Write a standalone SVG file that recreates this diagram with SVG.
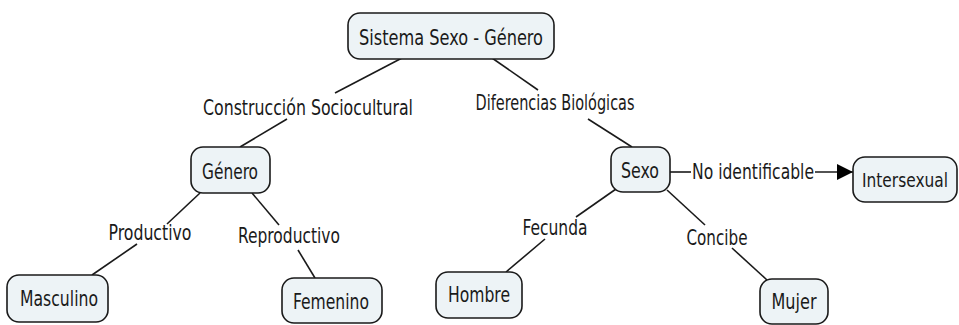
<svg xmlns="http://www.w3.org/2000/svg" width="959" height="325" viewBox="0 0 959 325">
<defs>
<style>
.n rect{fill:#edf3f6;stroke:#1a1a1a;stroke-width:1.6}
text{font-family:"DejaVu Sans Condensed","DejaVu Sans","Liberation Sans",sans-serif;font-size:21px;fill:#1a1a1a}
.c line{stroke:#1a1a1a;stroke-width:1.6}
</style>
<marker id="ah" viewBox="0 0 16 16" refX="16" refY="8" markerWidth="16" markerHeight="16" markerUnits="userSpaceOnUse" orient="auto">
<path d="M0,0 L16,8 L0,16 Z" fill="#000"/>
</marker>
</defs>
<rect width="959" height="325" fill="#fff"/>
<g id="connectors" class="c">
<line x1="402" y1="58" x2="335" y2="93"/>
<line x1="492" y1="58" x2="538" y2="90"/>
<line x1="287" y1="119" x2="240" y2="147"/>
<line x1="588" y1="119" x2="632" y2="147"/>
<line x1="200" y1="193" x2="167" y2="224"/>
<line x1="137" y1="244" x2="92" y2="275"/>
<line x1="252" y1="193" x2="279" y2="225"/>
<line x1="298" y1="250" x2="315" y2="278"/>
<line x1="616" y1="189" x2="576" y2="217"/>
<line x1="545" y1="239" x2="506" y2="272"/>
<line x1="667" y1="190" x2="705" y2="225"/>
<line x1="732" y1="248" x2="767" y2="280"/>
<line x1="670" y1="172" x2="691" y2="172"/>
<line x1="815" y1="172" x2="853" y2="172" marker-end="url(#ah)"/>
<text x="308" y="115" text-anchor="middle" textLength="210" lengthAdjust="spacingAndGlyphs">Construcción Sociocultural</text>
<text x="555" y="110" text-anchor="middle" textLength="159" lengthAdjust="spacingAndGlyphs">Diferencias Biológicas</text>
<text x="150" y="240" text-anchor="middle" textLength="83" lengthAdjust="spacingAndGlyphs">Productivo</text>
<text x="289" y="243" text-anchor="middle" textLength="102" lengthAdjust="spacingAndGlyphs">Reproductivo</text>
<text x="555" y="235" text-anchor="middle" textLength="65" lengthAdjust="spacingAndGlyphs">Fecunda</text>
<text x="717" y="245" text-anchor="middle" textLength="61" lengthAdjust="spacingAndGlyphs">Concibe</text>
<text x="753" y="179" text-anchor="middle" textLength="122" lengthAdjust="spacingAndGlyphs">No identificable</text>
</g>
<g id="sistema" class="n"><rect x="348" y="13" width="206" height="46" rx="12"/><text x="451" y="45" text-anchor="middle" textLength="184" lengthAdjust="spacingAndGlyphs">Sistema Sexo - Género</text></g>
<g id="genero" class="n"><rect x="191" y="147" width="79" height="46" rx="12"/><text x="230" y="179" text-anchor="middle" textLength="56" lengthAdjust="spacingAndGlyphs">Género</text></g>
<g id="sexo" class="n"><rect x="611" y="147" width="59" height="45" rx="12"/><text x="640" y="178" text-anchor="middle" textLength="38" lengthAdjust="spacingAndGlyphs">Sexo</text></g>
<g id="intersexual" class="n"><rect x="853" y="157" width="104" height="45" rx="12"/><text x="905" y="187" text-anchor="middle" style="font-size:19px" textLength="86" lengthAdjust="spacingAndGlyphs">Intersexual</text></g>
<g id="masculino" class="n"><rect x="7" y="275" width="101" height="47" rx="12"/><text x="59" y="306" text-anchor="middle" textLength="78" lengthAdjust="spacingAndGlyphs">Masculino</text></g>
<g id="femenino" class="n"><rect x="282" y="278" width="100" height="45" rx="12"/><text x="331" y="309" text-anchor="middle" textLength="76" lengthAdjust="spacingAndGlyphs">Femenino</text></g>
<g id="hombre" class="n"><rect x="436" y="272" width="86" height="46" rx="12"/><text x="479" y="302" text-anchor="middle" textLength="62" lengthAdjust="spacingAndGlyphs">Hombre</text></g>
<g id="mujer" class="n"><rect x="760" y="279" width="68" height="45" rx="12"/><text x="794" y="309" text-anchor="middle" textLength="45" lengthAdjust="spacingAndGlyphs">Mujer</text></g>
</svg>
